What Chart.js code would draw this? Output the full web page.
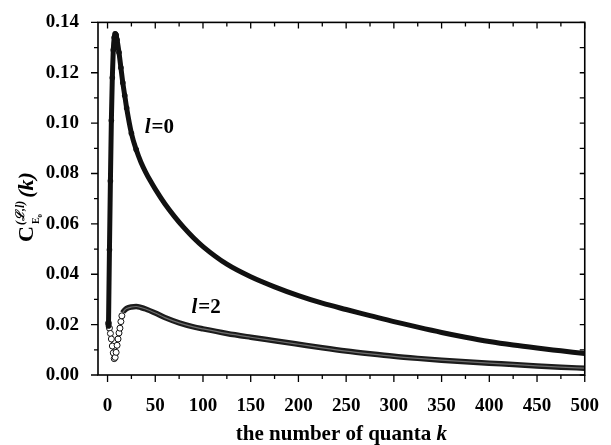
<!DOCTYPE html>
<html lang="en">
<head>
<meta charset="UTF-8">
<title>C(k) vs number of quanta</title>
<script src="https://cdn.jsdelivr.net/npm/chart.js"></script>
<style>
  body { margin: 0; background: #fff; }
  #grafico { display: block; }
</style>
</head>
<body>
<canvas id="grafico" width="611" height="445"></canvas>
<script>
// curva l=0 (pontos cheios)
const kL0 = [1, 2, 3, 4, 5, 6, 7, 8, 9, 10, 12, 14, 16, 18, 20, 25, 30, 35, 40, 45, 50, 60, 70, 80, 90, 100,
  125, 150, 175, 200, 225, 250, 275, 300, 325, 350, 375, 400, 425, 450, 475, 500];
const cL0 = [0.0195, 0.0497, 0.077, 0.101, 0.118, 0.129, 0.134, 0.1355, 0.135, 0.133, 0.128, 0.122, 0.116, 0.111, 0.106,
  0.096, 0.0895, 0.0845, 0.0805, 0.077, 0.0738, 0.068, 0.063, 0.0585, 0.0545, 0.051,
  0.044, 0.039, 0.035, 0.0315, 0.0285, 0.026, 0.0236, 0.0212, 0.019, 0.0169, 0.015, 0.0133, 0.0119, 0.0107, 0.0096, 0.0085];

// curva l=2 (circulos vazios)
const kL2 = [1, 2, 3, 4, 5, 6, 7, 8, 9, 10, 11, 12, 13, 14, 15, 16, 18, 20, 25, 30, 35, 40, 50, 60, 75, 90, 100,
  125, 150, 175, 200, 225, 250, 275, 300, 325, 350, 375, 400, 425, 450, 475, 500];
const cL2 = [0.0205, 0.0186, 0.0165, 0.0143, 0.0115, 0.0088, 0.0065, 0.007, 0.009, 0.0118, 0.0143, 0.0167, 0.0186, 0.0212,
  0.0235, 0.0248, 0.0258, 0.0264, 0.027, 0.0272, 0.0268, 0.0262, 0.0246, 0.0228, 0.0207, 0.0191, 0.0183,
  0.0165, 0.0150, 0.0136, 0.0122, 0.0108, 0.0095, 0.0084, 0.0074, 0.0066, 0.0059, 0.0053, 0.0047, 0.0042, 0.0036, 0.0031, 0.0027];

const xTicks = [0, 50, 100, 150, 200, 250, 300, 350, 400, 450, 500];
const xMinor = [25, 75, 125, 175, 225, 275, 325, 375, 425, 475];
const yTicks = [0, 0.02, 0.04, 0.06, 0.08, 0.10, 0.12, 0.14];
const yMinor = [0.01, 0.03, 0.05, 0.07, 0.09, 0.11, 0.13];

const serif = "'Liberation Serif', 'Times New Roman', serif";

function pares(ks, cs) {
  return ks.map((k, i) => ({ x: k, y: cs[i] }));
}

// moldura, tracinhos e textos
const moldura = {
  id: 'moldura',
  afterDraw(chart) {
    const { ctx, chartArea: a, scales: { x, y } } = chart;
    ctx.save();
    ctx.strokeStyle = '#000';
    ctx.lineWidth = 1.6;
    ctx.strokeRect(a.left, a.top, a.right - a.left, a.bottom - a.top);

    ctx.lineWidth = 1.3;
    ctx.beginPath();
    function risco(x1, y1, x2, y2) { ctx.moveTo(x1, y1); ctx.lineTo(x2, y2); }
    xTicks.forEach(v => {
      const p = x.getPixelForValue(v);
      risco(p, a.bottom, p, a.bottom + 7);
      risco(p, a.top, p, a.top + 6);
    });
    xMinor.forEach(v => {
      const p = x.getPixelForValue(v);
      risco(p, a.bottom, p, a.bottom + 4);
      risco(p, a.top, p, a.top + 4);
    });
    yTicks.forEach(v => {
      const p = y.getPixelForValue(v);
      risco(a.left - 7, p, a.left, p);
      risco(a.right - 5, p, a.right, p);
    });
    yMinor.forEach(v => {
      const p = y.getPixelForValue(v);
      risco(a.left - 4, p, a.left, p);
      risco(a.right - 5, p, a.right, p);
    });
    ctx.stroke();

    ctx.fillStyle = '#000';
    ctx.textBaseline = 'alphabetic';
    ctx.textAlign = 'left';

    // rotulos das curvas
    function rotulo(txt, k, c) {
      let px = x.getPixelForValue(k), py = y.getPixelForValue(c);
      ctx.font = 'italic bold 21px ' + serif;
      ctx.fillText('l', px, py);
      px += ctx.measureText('l').width + 1;
      ctx.font = 'bold 21px ' + serif;
      ctx.fillText(txt, px, py);
    }
    rotulo('=0', 39, 0.0962);
    rotulo('=2', 88, 0.0245);

    // titulo eixo x
    ctx.font = 'bold 21px ' + serif;
    const t1 = 'the number of quanta ';
    const w1 = ctx.measureText(t1).width;
    ctx.font = 'italic bold 21px ' + serif;
    const w2 = ctx.measureText('k').width;
    let tx = (a.left + a.right) / 2 - (w1 + w2) / 2;
    ctx.font = 'bold 21px ' + serif;
    ctx.fillText(t1, tx, 440);
    ctx.font = 'italic bold 21px ' + serif;
    ctx.fillText('k', tx + w1, 440);

    // titulo eixo y (girado)
    ctx.translate(33, 242);
    ctx.rotate(-Math.PI / 2);
    ctx.font = 'bold 22px ' + serif;
    ctx.fillText('C', 0, 0);
    const x1 = ctx.measureText('C').width + 1;
    ctx.font = 'italic bold 12px ' + serif;
    ctx.fillText('(\u2112,l)', x1, -9);
    const wSup = ctx.measureText('(\u2112,l)').width;
    ctx.font = 'bold 10px ' + serif;
    ctx.fillText('E', x1 + 1, 6);
    const wE = ctx.measureText('E').width;
    ctx.font = 'bold 7px ' + serif;
    ctx.fillText('0', x1 + 1 + wE, 9);
    ctx.font = 'italic bold 22px ' + serif;
    ctx.fillText('(k)', x1 + wSup + 3, 0);

    ctx.restore();
  }
};

new Chart(document.getElementById('grafico'), {
  type: 'line',
  data: {
    datasets: [
      {
        label: 'l=0',
        data: pares(kL0, cL0),
        borderColor: '#111',
        borderWidth: 5,
        pointRadius: c => c.raw && c.raw.x <= 30 ? 2.8 : 0,
        pointBackgroundColor: '#111',
        pointBorderWidth: 0,
        cubicInterpolationMode: 'monotone',
        order: 0
      },
      {
        label: 'l=2',
        data: pares(kL2, cL2),
        borderColor: '#1c1c1c',
        borderWidth: 5.5,
        segment: {
          borderWidth: c => c.p0.parsed.x < 16 ? 1.5 : 5.5
        },
        pointRadius: c => c.raw && c.raw.x <= 15 ? 3 : 0,
        pointBackgroundColor: '#fff',
        pointBorderColor: '#111',
        pointBorderWidth: 1,
        cubicInterpolationMode: 'monotone',
        order: 2
      },
      {
        label: 'l=2 meio',
        data: pares(kL2, cL2).filter(p => p.x >= 16),
        borderColor: '#6f6f6f',
        borderWidth: 1.2,
        pointRadius: 0,
        cubicInterpolationMode: 'monotone',
        order: 1
      }
    ]
  },
  options: {
    responsive: false,
    animation: false,
    layout: { padding: { left: 0, top: 14, right: 25, bottom: 0 } },
    plugins: { legend: { display: false }, tooltip: { enabled: false } },
    scales: {
      x: {
        type: 'linear',
        min: -10,
        max: 500,
        grid: { display: false },
        border: { display: false },
        afterBuildTicks: s => { s.ticks = xTicks.map(v => ({ value: v })); },
        afterFit: s => { s.height = 70; },
        ticks: {
          padding: 12,
          color: '#000',
          maxRotation: 0,
          font: { family: serif, size: 19, weight: 'bold' }
        }
      },
      y: {
        min: 0,
        max: 0.14,
        grid: { display: false },
        border: { display: false },
        afterBuildTicks: s => { s.ticks = yTicks.map(v => ({ value: v })); },
        afterFit: s => { s.width = 98; },
        ticks: {
          padding: 11,
          color: '#000',
          callback: v => v.toFixed(2),
          font: { family: serif, size: 19, weight: 'bold' }
        }
      }
    }
  },
  plugins: [moldura]
});
</script>
</body>
</html>
